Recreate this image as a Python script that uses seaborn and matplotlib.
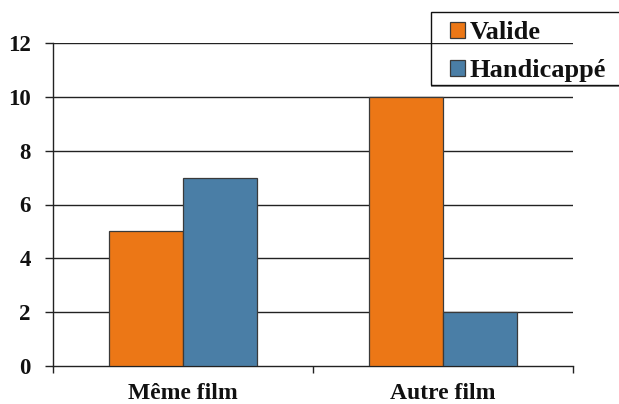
import matplotlib
matplotlib.use("Agg")
import matplotlib.pyplot as plt
from matplotlib.patches import Rectangle
import seaborn as sns
import pandas as pd

categories = ["Même film", "Autre film"]
series_names = ["Valide", "Handicappé"]
valide = [5, 10]
handicappe = [7, 2]
colors = ["#EC7716", "#4A7EA6"]

df = pd.DataFrame({
    "cat": categories * 2,
    "serie": [series_names[0]] * 2 + [series_names[1]] * 2,
    "val": valide + handicappe,
})

sns.set_theme(style="white")
FAM = ["Liberation Serif", "DejaVu Serif"]
plt.rcParams["font.family"] = FAM
plt.rcParams["font.weight"] = "bold"

W, H = 619, 404
fig = plt.figure(figsize=(W/100, H/100), dpi=100)
ax = fig.add_axes([53/W, 1-366/H, (573-53)/W, (366-43)/H])

sns.barplot(data=df, x="cat", y="val", hue="serie", palette=colors, width=0.57,
            edgecolor="#3a3a3a", linewidth=0.9, saturation=1, ax=ax, zorder=3)

ax.set_xlim(-0.5, 1.5)
ax.set_ylim(0, 12)
ax.set_yticks(range(0, 13, 2))
for y in range(2, 13, 2):
    ax.axhline(y, color="#222222", lw=1.0, zorder=1)

ax.set_xticks([-0.5, 0.5, 1.5])
ax.set_xticklabels(["", "", ""])
ax.set_xticks([0, 1], minor=True)
ax.set_xticklabels(categories, minor=True, fontsize=17, fontweight="bold", family=FAM,
                   color="#111111")
ax.tick_params(axis="x", which="major", direction="out", length=5, width=1, color="#222222", bottom=True)
ax.tick_params(axis="x", which="minor", length=0, pad=12)
ax.tick_params(axis="y", direction="out", length=6, width=1, color="#222222", left=True, pad=10)
ax.set_yticklabels([str(v) for v in range(0, 13, 2)], fontsize=16.5, fontweight="bold", family=FAM,
                   color="#111111")

for s in ["top", "right"]:
    ax.spines[s].set_visible(False)
for s in ["left", "bottom"]:
    ax.spines[s].set_color("#222222")
    ax.spines[s].set_linewidth(1.0)
ax.set_xlabel("")
ax.set_ylabel("")

# legend frame (open on the right, with a soft shadow at the bottom)
fig.patches.append(Rectangle((431/W, 1-86.5/H), 200/W, 2/H, transform=fig.transFigure,
                             facecolor="#8c8c8c", edgecolor="none", zorder=5))
fig.patches.append(Rectangle((430.5/W, 1-84.5/H), 200/W, 72/H, transform=fig.transFigure,
                             facecolor="none", edgecolor="#111111", lw=1.0, zorder=6))

handles, labels = ax.get_legend_handles_labels()
ax.get_legend().remove()
leg = fig.legend(handles, labels, loc="upper left", bbox_to_anchor=(450/W, 1-21/H),
                 frameon=False,
                 prop={"family": FAM, "weight": "bold", "size": 19},
                 handlelength=0.55, handleheight=0.55, handletextpad=0.2,
                 labelspacing=0.58, borderpad=0, borderaxespad=0)
for t in leg.get_texts():
    t.set_color("#111111")

fig.savefig("out.png", dpi=100)
